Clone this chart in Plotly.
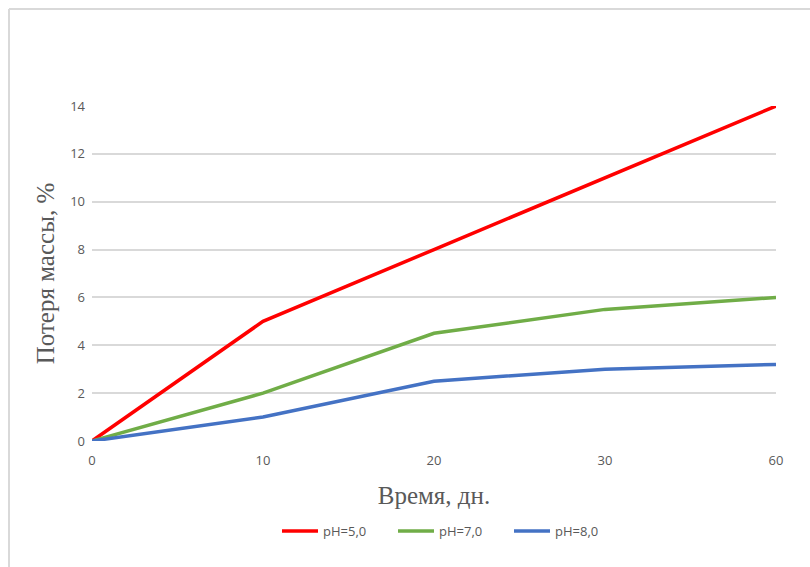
import plotly.graph_objects as go

# Exposure time, days (categorical axis)
days = ["0", "10", "20", "30", "60"]

# Mass loss, % at each pH
loss_ph5 = [0, 5, 8, 11, 14]
loss_ph7 = [0, 2, 4.5, 5.5, 6]
loss_ph8 = [0, 1, 2.5, 3, 3.2]

series = [
    ("pH=5,0", loss_ph5, "#FF0000"),
    ("pH=7,0", loss_ph7, "#70AD47"),
    ("pH=8,0", loss_ph8, "#4472C4"),
]

W, H = 810, 567
L, R, T, B = 92, 34, 106, 126
pw, ph = W - L - R, H - T - B

fig = go.Figure()
for name, vals, color in series:
    fig.add_trace(go.Scatter(
        x=days, y=vals, name=name, mode="lines",
        line=dict(color=color, width=3.5),
    ))

tick_font = dict(family="Open Sans, Arial, sans-serif", size=13, color="#595959")
title_font = dict(family="Liberation Serif, Times New Roman, serif", size=25, color="#595959")

fig.update_layout(
    width=W, height=H,
    margin=dict(l=L, r=R, t=T, b=B),
    paper_bgcolor="white", plot_bgcolor="white",
    showlegend=True,
    legend=dict(
        orientation="h", x=(277 - L) / pw, xanchor="left",
        y=(H - B - 531) / ph, yanchor="middle",
        font=dict(family="Open Sans, Arial, sans-serif", size=13, color="#595959"),
        itemwidth=36, tracegroupgap=0,
        entrywidth=65, entrywidthmode="pixels",
    ),
    xaxis=dict(
        type="category", range=[0, 4],
        showgrid=False, zeroline=False, showline=False,
        ticks="", tickfont=tick_font, ticklabelstandoff=10,
        title=dict(text="Время, дн.", font=title_font, standoff=18),
    ),
    yaxis=dict(
        range=[0, 14], dtick=2,
        showgrid=True, gridcolor="#D9D9D9", gridwidth=1.5,
        zeroline=False, showline=False,
        ticks="", tickfont=tick_font, ticklabelstandoff=6,
        title=dict(text="Потеря массы, %", font=title_font, standoff=8),
    ),
    shapes=[
        # chart frame edges (left and top)
        dict(type="line", xref="paper", yref="paper",
             x0=(9 - L) / pw, x1=(W - L) / pw,
             y0=(H - B - 9) / ph, y1=(H - B - 9) / ph,
             line=dict(color="#D9D9D9", width=2)),
        dict(type="line", xref="paper", yref="paper",
             x0=(9 - L) / pw, x1=(9 - L) / pw,
             y0=(H - B - 9) / ph, y1=-B / ph,
             line=dict(color="#D9D9D9", width=2)),
    ],
)

fig.write_html("out.html")
